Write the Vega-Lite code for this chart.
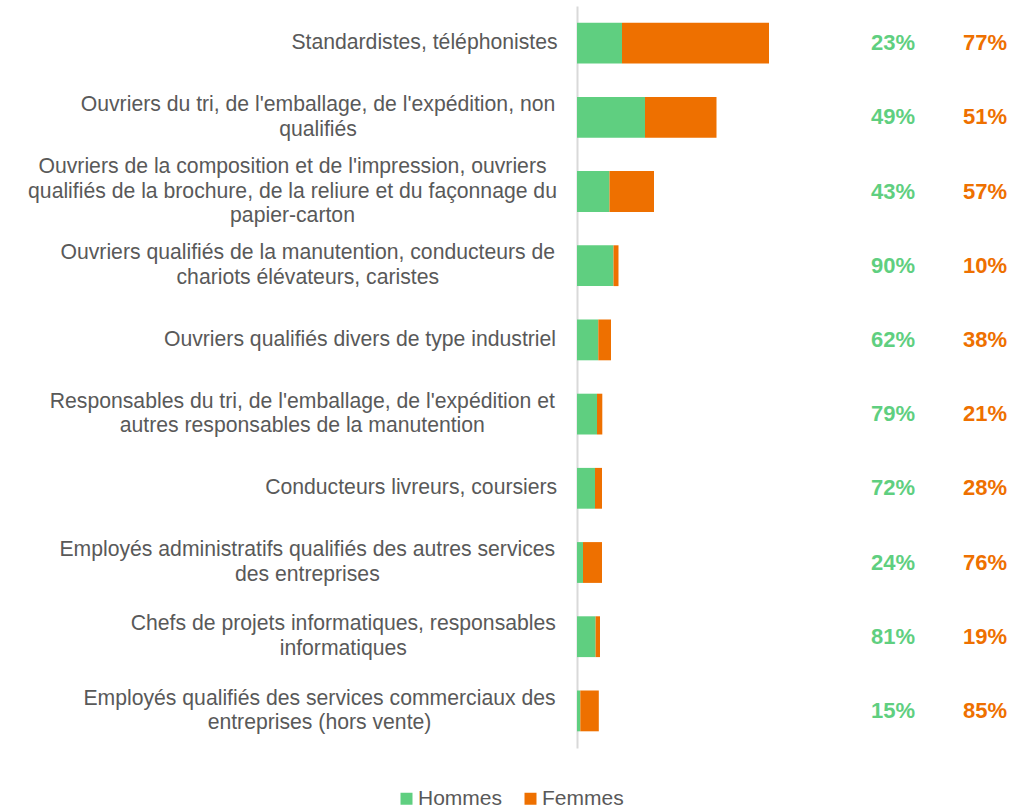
{
  "$schema": "https://vega.github.io/schema/vega-lite/v6.json",
  "width": 453,
  "height": 742,
  "autosize": {"type": "none"},
  "padding": {"left": 577, "top": 6, "right": 0, "bottom": 61},
  "background": "white",
  "config": {"view": {"stroke": null}, "font": "Liberation Sans"},
  "data": {
    "values": [
      {"metier": "Standardistes, téléphonistes", "sexe": "Hommes", "valeur": 45, "part": 0.23},
      {"metier": "Standardistes, téléphonistes", "sexe": "Femmes", "valeur": 147, "part": 0.77},
      {"metier": "Ouvriers du tri, de l'emballage, de l'expédition, non qualifiés", "sexe": "Hommes", "valeur": 68, "part": 0.49},
      {"metier": "Ouvriers du tri, de l'emballage, de l'expédition, non qualifiés", "sexe": "Femmes", "valeur": 71.5, "part": 0.51},
      {"metier": "Ouvriers de la composition et de l'impression, ouvriers qualifiés de la brochure, de la reliure et du façonnage du papier-carton", "sexe": "Hommes", "valeur": 32.5, "part": 0.43},
      {"metier": "Ouvriers de la composition et de l'impression, ouvriers qualifiés de la brochure, de la reliure et du façonnage du papier-carton", "sexe": "Femmes", "valeur": 44.5, "part": 0.57},
      {"metier": "Ouvriers qualifiés de la manutention, conducteurs de chariots élévateurs, caristes", "sexe": "Hommes", "valeur": 36.5, "part": 0.9},
      {"metier": "Ouvriers qualifiés de la manutention, conducteurs de chariots élévateurs, caristes", "sexe": "Femmes", "valeur": 5, "part": 0.1},
      {"metier": "Ouvriers qualifiés divers de type industriel", "sexe": "Hommes", "valeur": 21.3, "part": 0.62},
      {"metier": "Ouvriers qualifiés divers de type industriel", "sexe": "Femmes", "valeur": 12.7, "part": 0.38},
      {"metier": "Responsables du tri, de l'emballage, de l'expédition et autres responsables de la manutention", "sexe": "Hommes", "valeur": 20, "part": 0.79},
      {"metier": "Responsables du tri, de l'emballage, de l'expédition et autres responsables de la manutention", "sexe": "Femmes", "valeur": 5.3, "part": 0.21},
      {"metier": "Conducteurs livreurs, coursiers", "sexe": "Hommes", "valeur": 18, "part": 0.72},
      {"metier": "Conducteurs livreurs, coursiers", "sexe": "Femmes", "valeur": 7, "part": 0.28},
      {"metier": "Employés administratifs qualifiés des autres services des entreprises", "sexe": "Hommes", "valeur": 6, "part": 0.24},
      {"metier": "Employés administratifs qualifiés des autres services des entreprises", "sexe": "Femmes", "valeur": 19, "part": 0.76},
      {"metier": "Chefs de projets informatiques, responsables informatiques", "sexe": "Hommes", "valeur": 18.6, "part": 0.81},
      {"metier": "Chefs de projets informatiques, responsables informatiques", "sexe": "Femmes", "valeur": 4.4, "part": 0.19},
      {"metier": "Employés qualifiés des services commerciaux des entreprises (hors vente)", "sexe": "Hommes", "valeur": 3.3, "part": 0.15},
      {"metier": "Employés qualifiés des services commerciaux des entreprises (hors vente)", "sexe": "Femmes", "valeur": 18.5, "part": 0.85}
    ]
  },
  "encoding": {
    "y": {
      "field": "metier",
      "type": "nominal",
      "sort": null,
      "scale": {"paddingInner": 0.45, "paddingOuter": 0.225},
      "axis": {
        "title": null,
        "ticks": false,
        "domainColor": "#D9D9D9",
        "domainWidth": 2,
        "labelFont": "Liberation Sans",
        "labelFontSize": 21.2,
        "labelColor": "#595959",
        "labelLimit": 0,
        "labelLineHeight": 24.5,
        "labelAlign": "center",
        "labelBaseline": "middle",
        "labelOffset": {
          "condition": [
            {"test": "indexof(datum.value, 'Ouvriers de la composition') === 0", "value": -24.5},
            {"test": "indexof(datum.value, 'Standardistes') === 0 || indexof(datum.value, 'Ouvriers qualifiés divers') === 0 || indexof(datum.value, 'Conducteurs livreurs') === 0", "value": 0}
          ],
          "value": -12.25
        },
        "labelPadding": {
          "condition": [
            {"test": "indexof(datum.value, 'Standardistes') === 0", "value": 153},
            {"test": "indexof(datum.value, 'Ouvriers du tri') === 0", "value": 259.5},
            {"test": "indexof(datum.value, 'Ouvriers de la composition') === 0", "value": 285},
            {"test": "indexof(datum.value, 'Ouvriers qualifiés de la manutention') === 0", "value": 269.7},
            {"test": "indexof(datum.value, 'Ouvriers qualifiés divers') === 0", "value": 217.5},
            {"test": "indexof(datum.value, 'Responsables du tri') === 0", "value": 275.2},
            {"test": "indexof(datum.value, 'Conducteurs livreurs') === 0", "value": 166.3},
            {"test": "indexof(datum.value, 'Employés administratifs') === 0", "value": 270.2},
            {"test": "indexof(datum.value, 'Chefs de projets') === 0", "value": 234.2},
            {"test": "indexof(datum.value, 'Employés qualifiés des services') === 0", "value": 258}
          ],
          "value": 19
        },
        "labelExpr": "indexof(datum.value, 'Ouvriers du tri') === 0 ? [\"Ouvriers du tri, de l'emballage, de l'expédition, non\", 'qualifiés'] : indexof(datum.value, 'Ouvriers de la composition') === 0 ? [\"Ouvriers de la composition et de l'impression, ouvriers\", 'qualifiés de la brochure, de la reliure et du façonnage du', 'papier-carton'] : indexof(datum.value, 'Ouvriers qualifiés de la manutention') === 0 ? ['Ouvriers qualifiés de la manutention, conducteurs de', 'chariots élévateurs, caristes'] : indexof(datum.value, 'Responsables du tri') === 0 ? [\"Responsables du tri, de l'emballage, de l'expédition et\", 'autres responsables de la manutention'] : indexof(datum.value, 'Employés administratifs') === 0 ? ['Employés administratifs qualifiés des autres services', 'des entreprises'] : indexof(datum.value, 'Chefs de projets') === 0 ? ['Chefs de projets informatiques, responsables', 'informatiques'] : indexof(datum.value, 'Employés qualifiés des services') === 0 ? ['Employés qualifiés des services commerciaux des', 'entreprises (hors vente)'] : datum.label"
      }
    }
  },
  "layer": [
    {
      "mark": {"type": "bar"},
      "encoding": {
        "x": {"field": "valeur", "type": "quantitative", "stack": "zero", "scale": {"domain": [0, 453], "nice": false}, "axis": null},
        "order": {"field": "sexe", "sort": "descending"},
        "color": {
          "field": "sexe",
          "type": "nominal",
          "sort": ["Hommes", "Femmes"],
          "scale": {"domain": ["Hommes", "Femmes"], "range": ["#5FCF80", "#EE7000"]},
          "legend": {
            "title": null,
            "orient": "none",
            "direction": "horizontal",
            "legendX": -181,
            "legendY": 782,
            "symbolType": "square",
            "symbolSize": 144,
            "symbolStrokeWidth": 0,
            "labelFont": "Liberation Sans",
            "labelFontSize": 21,
            "labelColor": "#595959",
            "labelOffset": 1,
            "columnPadding": 17
          }
        }
      }
    },
    {
      "transform": [{"filter": "datum.sexe === 'Hommes'"}],
      "mark": {"type": "text", "font": "Liberation Sans", "fontWeight": "bold", "fontSize": 22, "color": "#5FCF80"},
      "encoding": {"x": {"datum": 316, "type": "quantitative"}, "text": {"field": "part", "type": "quantitative", "format": ".0%"}}
    },
    {
      "transform": [{"filter": "datum.sexe === 'Femmes'"}],
      "mark": {"type": "text", "font": "Liberation Sans", "fontWeight": "bold", "fontSize": 22, "color": "#EE7000"},
      "encoding": {"x": {"datum": 408, "type": "quantitative"}, "text": {"field": "part", "type": "quantitative", "format": ".0%"}}
    }
  ]
}
